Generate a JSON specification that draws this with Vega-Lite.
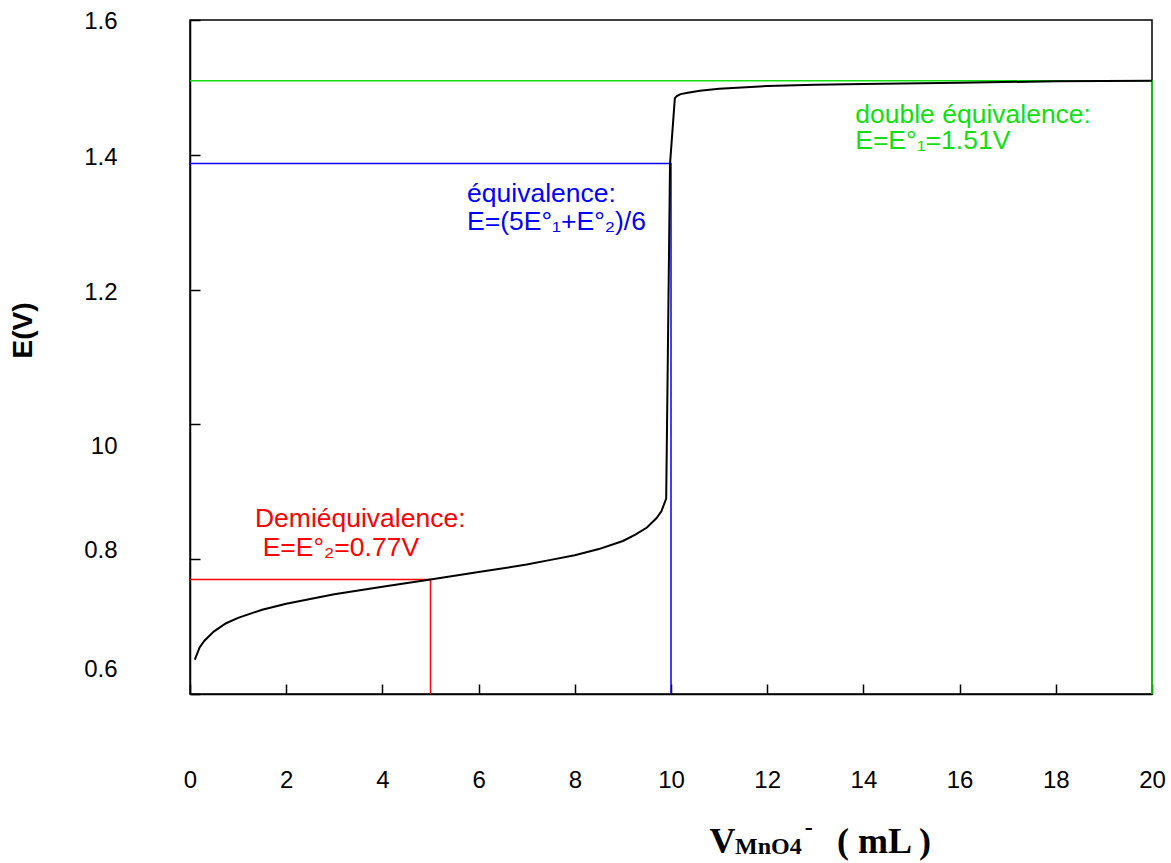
{
  "$schema": "https://vega.github.io/schema/vega-lite/v6.json",
  "width": 962,
  "height": 674,
  "autosize": {"type": "none"},
  "padding": {"left": 190, "top": 20, "right": 19, "bottom": 169},
  "background": "white",
  "config": {
    "view": {"stroke": "black", "strokeWidth": 1.5},
    "axis": {
      "domainColor": "black", "domainWidth": 1.5,
      "tickColor": "black", "tickWidth": 1.5,
      "labelFont": "Liberation Sans", "labelFontSize": 24, "labelColor": "black",
      "grid": false
    }
  },
  "datasets": {
    "curve": [
      {"v": 0.1, "E": 0.651}, {"v": 0.2, "E": 0.669}, {"v": 0.3, "E": 0.679},
      {"v": 0.5, "E": 0.693}, {"v": 0.75, "E": 0.705}, {"v": 1, "E": 0.713},
      {"v": 1.5, "E": 0.725}, {"v": 2, "E": 0.734}, {"v": 2.5, "E": 0.741},
      {"v": 3, "E": 0.748}, {"v": 4, "E": 0.759}, {"v": 5, "E": 0.770},
      {"v": 6, "E": 0.781}, {"v": 7, "E": 0.792}, {"v": 7.5, "E": 0.799},
      {"v": 8, "E": 0.806}, {"v": 8.5, "E": 0.815}, {"v": 9, "E": 0.827},
      {"v": 9.25, "E": 0.836}, {"v": 9.5, "E": 0.847}, {"v": 9.7, "E": 0.861},
      {"v": 9.8, "E": 0.871}, {"v": 9.9, "E": 0.890}, {"v": 9.98, "E": 1.387},
      {"v": 10.08, "E": 1.484}, {"v": 10.12, "E": 1.487}, {"v": 10.2, "E": 1.490},
      {"v": 10.35, "E": 1.492}, {"v": 10.6, "E": 1.495}, {"v": 11, "E": 1.498},
      {"v": 12, "E": 1.502}, {"v": 13, "E": 1.504}, {"v": 14, "E": 1.505},
      {"v": 16, "E": 1.507}, {"v": 18, "E": 1.509}, {"v": 20, "E": 1.510}
    ],
    "refs": [
      {"series": "demi", "step": 1, "v": 0, "E": 0.77},
      {"series": "demi", "step": 2, "v": 5, "E": 0.77},
      {"series": "demi", "step": 3, "v": 5, "E": 0.6},
      {"series": "equiv", "step": 1, "v": 0, "E": 1.387},
      {"series": "equiv", "step": 2, "v": 10, "E": 1.387},
      {"series": "equiv", "step": 3, "v": 10, "E": 0.6},
      {"series": "double", "step": 1, "v": 0, "E": 1.51},
      {"series": "double", "step": 2, "v": 20, "E": 1.51},
      {"series": "double", "step": 3, "v": 20, "E": 0.6}
    ],
    "notes": [
      {"series": "double", "text": "double équivalence:", "v": 13.83, "E": 1.447},
      {"series": "double", "text": "E=E°₁=1.51V", "v": 13.83, "E": 1.408},
      {"series": "equiv", "text": "équivalence:", "v": 5.76, "E": 1.330},
      {"series": "equiv", "text": "E=(5E°₁+E°₂)/6", "v": 5.76, "E": 1.289},
      {"series": "demi", "text": "Demiéquivalence:", "v": 1.35, "E": 0.848},
      {"series": "demi", "text": "E=E°₂=0.77V", "v": 1.51, "E": 0.805}
    ],
    "xtitle": [
      {"part": "big", "text": "V", "v": 10.8, "E": 0.364},
      {"part": "sub", "text": "MnO4", "v": 11.33, "E": 0.363},
      {"part": "sub", "text": "-", "v": 12.78, "E": 0.391},
      {"part": "big", "text": "( mL )", "v": 13.45, "E": 0.364}
    ]
  },
  "layer": [
    {
      "data": {"name": "refs"},
      "mark": {"type": "line", "strokeWidth": 1.5},
      "encoding": {
        "x": {"field": "v", "type": "quantitative",
          "scale": {"domain": [0, 20], "nice": false},
          "axis": {"values": [0, 2, 4, 6, 8, 10, 12, 14, 16, 18, 20], "tickSize": -10, "labelPadding": 84, "title": null, "labelFlush": false}},
        "y": {"field": "E", "type": "quantitative",
          "scale": {"domain": [0.6, 1.6], "nice": false, "zero": false},
          "axis": {"values": [0.6, 0.8, 1.0, 1.2, 1.4, 1.6], "tickSize": -10, "labelPadding": 83,
            "labelFlush": false,
            "labelExpr": "datum.value == 1 ? '10' : format(datum.value, '.1f')",
            "labelOffset": {"condition": [
              {"test": "datum.value == 1", "value": 22},
              {"test": "datum.value == 0.8", "value": -9},
              {"test": "datum.value == 0.6", "value": -25},
              {"test": "datum.value == 1.6", "value": 1}
            ], "value": 3},
            "title": "E(V)", "titleFont": "Liberation Sans", "titleFontSize": 28, "titleFontWeight": "bold",
            "titleColor": "black", "titleAngle": -90, "titleX": -159, "titleY": 310,
            "titleAlign": "center", "titleBaseline": "alphabetic"}},
        "color": {"field": "series", "type": "nominal",
          "scale": {"domain": ["demi", "equiv", "double"], "range": ["#ff0000", "#0000ff", "#10e010"]},
          "legend": null},
        "order": {"field": "step", "type": "quantitative"}
      }
    },
    {
      "data": {"name": "curve"},
      "mark": {"type": "line", "color": "black", "strokeWidth": 2},
      "encoding": {
        "x": {"field": "v", "type": "quantitative"},
        "y": {"field": "E", "type": "quantitative"}
      }
    },
    {
      "data": {"name": "notes"},
      "mark": {"type": "text", "align": "left", "baseline": "alphabetic", "font": "Liberation Sans", "fontSize": 26.5},
      "encoding": {
        "x": {"field": "v", "type": "quantitative"},
        "y": {"field": "E", "type": "quantitative"},
        "text": {"field": "text"},
        "color": {"field": "series", "type": "nominal", "legend": null}
      }
    },
    {
      "data": {"name": "xtitle"},
      "transform": [{"filter": "datum.part == 'big'"}],
      "mark": {"type": "text", "align": "left", "baseline": "alphabetic", "font": "Liberation Serif", "fontWeight": "bold", "fontSize": 36, "color": "black"},
      "encoding": {
        "x": {"field": "v", "type": "quantitative"},
        "y": {"field": "E", "type": "quantitative"},
        "text": {"field": "text"}
      }
    },
    {
      "data": {"name": "xtitle"},
      "transform": [{"filter": "datum.part != 'big'"}],
      "mark": {"type": "text", "align": "left", "baseline": "alphabetic", "font": "Liberation Serif", "fontWeight": "bold", "fontSize": 24, "color": "black"},
      "encoding": {
        "x": {"field": "v", "type": "quantitative"},
        "y": {"field": "E", "type": "quantitative"},
        "text": {"field": "text"}
      }
    }
  ]
}
